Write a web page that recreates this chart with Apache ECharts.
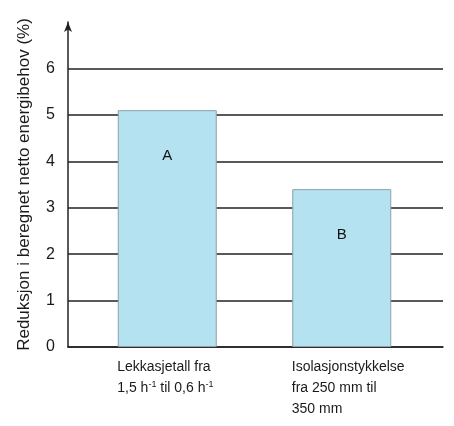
<!DOCTYPE html>
<html><head><meta charset="utf-8">
<script src="https://cdn.jsdelivr.net/npm/echarts@6/dist/echarts.min.js"></script>
<style>html,body{margin:0;padding:0;background:#fff}#c{width:454px;height:426px}</style>
</head><body><div id="c"></div>
<script>
const categories = ['Lekkasjetall fra\n1,5 h⁻¹ til 0,6 h⁻¹', 'Isolasjonstykkelse\nfra 250 mm til\n350 mm'];
const values = [5.1, 3.4];
const barLabels = ['A', 'B'];
const yTicks = [0, 1, 2, 3, 4, 5, 6];
const yTitle = 'Reduksjon i beregnet netto energibehov (%)';

const font = 'Liberation Sans, Arial, sans-serif';
function fmt(v) {
  return v.split('\n').map(l => '{t|' + l.replace(/⁻¹/g, '}{s|-1}{t|') + '}').join('\n');
}
const chart = echarts.init(document.getElementById('c'), null, {renderer: 'canvas'});
chart.setOption({
  animation: false,
  backgroundColor: '#fff',
  grid: [
    {left: 68, right: 11, top: 22, bottom: 79},
    {left: 80, right: 25, top: 22, bottom: 79}
  ],
  xAxis: [
    {gridIndex: 0, type: 'category', data: categories,
     axisLine: {show: true, lineStyle: {color: '#222', width: 1.5}},
     axisTick: {show: false}, axisLabel: {show: false}, splitLine: {show: false}},
    {gridIndex: 1, type: 'category', data: categories,
     axisLine: {show: false}, axisTick: {show: false},
     axisLabel: {
       interval: 0, margin: 10, width: 100, align: 'center',
       formatter: fmt,
       rich: {
         t: {fontFamily: font, fontSize: 14, color: '#1a1a1a', align: 'left', lineHeight: 21},
         s: {fontFamily: font, fontSize: 9, color: '#1a1a1a', align: 'left', padding: [0, 0, 8, 0]}
       }
     }}
  ],
  yAxis: [
    {gridIndex: 0, type: 'value', min: 0, max: 7, interval: 1,
     name: yTitle, nameLocation: 'middle', nameGap: 35,
     nameTextStyle: {fontFamily: font, fontSize: 17, color: '#1a1a1a'},
     axisLine: {show: true, symbol: ['none', 'arrow'], symbolSize: [6, 10], symbolOffset: [0, 0],
                lineStyle: {color: '#222', width: 1.5}},
     axisTick: {show: false},
     axisLabel: {margin: 13, fontFamily: font, fontSize: 16, color: '#1a1a1a',
                 showMaxLabel: false,
                 formatter: v => yTicks.includes(v) ? String(v) : ''},
     splitLine: {show: true, showMaxLine: false, lineStyle: {color: '#222', width: 1.5}}},
    {gridIndex: 1, type: 'value', min: 0, max: 7, interval: 1, show: false}
  ],
  series: [{
    type: 'bar', xAxisIndex: 1, yAxisIndex: 1,
    data: values, barWidth: 99,
    itemStyle: {color: '#b5e2f1', borderColor: '#8aa0a6', borderWidth: 1},
    label: {show: true, position: 'insideTop', distance: 38,
            formatter: p => barLabels[p.dataIndex],
            fontFamily: font, fontSize: 15, color: '#111'}
  }]
});
</script></body></html>
